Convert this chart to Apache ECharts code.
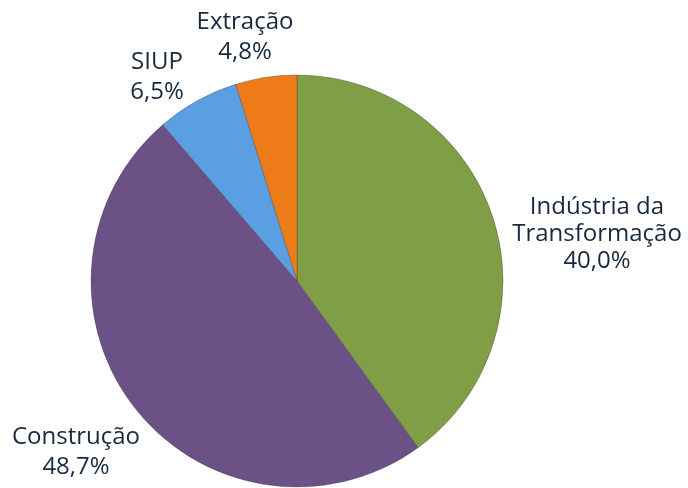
<!DOCTYPE html>
<html>
<head>
<meta charset="utf-8">
<script src="https://cdn.jsdelivr.net/npm/echarts@6/dist/echarts.min.js"></script>
<style>
  html, body { margin: 0; padding: 0; background: #fff; }
  #chart { width: 688px; height: 488px; }
</style>
</head>
<body>
<div id="chart"></div>
<script>
const categories = ['Indústria da\nTransformação', 'Construção', 'SIUP', 'Extração'];
const shares = [40.0, 48.7, 6.5, 4.8];
const sliceColors = ['#7f9e45', '#6b5186', '#5b9fe3', '#ee7b1a'];
// label anchor points (centre of each text block) and line spacing
const labelPos = [[597, 234], [76, 452], [157, 77], [245, 37]];
const labelLineHeight = [27, 30, 30, 30];

let myChart = echarts.init(document.getElementById('chart'));

let pieData = categories.map((name, i) => ({
  name: name,
  value: shares[i],
  itemStyle: { color: sliceColors[i] },
  label: { lineHeight: labelLineHeight[i] }
}));

let option = {
  animation: false,
  series: [
    {
      type: 'pie',
      center: [297, 281],
      radius: 206,
      startAngle: 90,
      clockwise: true,
      data: pieData,
      itemStyle: {
        borderColor: 'rgba(60,60,60,0.35)',
        borderWidth: 1
      },
      label: {
        show: true,
        position: 'outside',
        overflow: 'none',
        fontFamily: 'Open Sans',
        fontSize: 24,
        fontWeight: 500,
        color: '#17283f',
        align: 'center',
        formatter: p => p.name + '\n' + p.value.toFixed(1).replace('.', ',') + '%'
      },
      labelLine: { show: false },
      labelLayout: p => ({
        x: labelPos[p.dataIndex][0],
        y: labelPos[p.dataIndex][1],
        align: 'center',
        verticalAlign: 'middle'
      })
    }
  ]
};

myChart.setOption(option);
</script>
</body>
</html>
